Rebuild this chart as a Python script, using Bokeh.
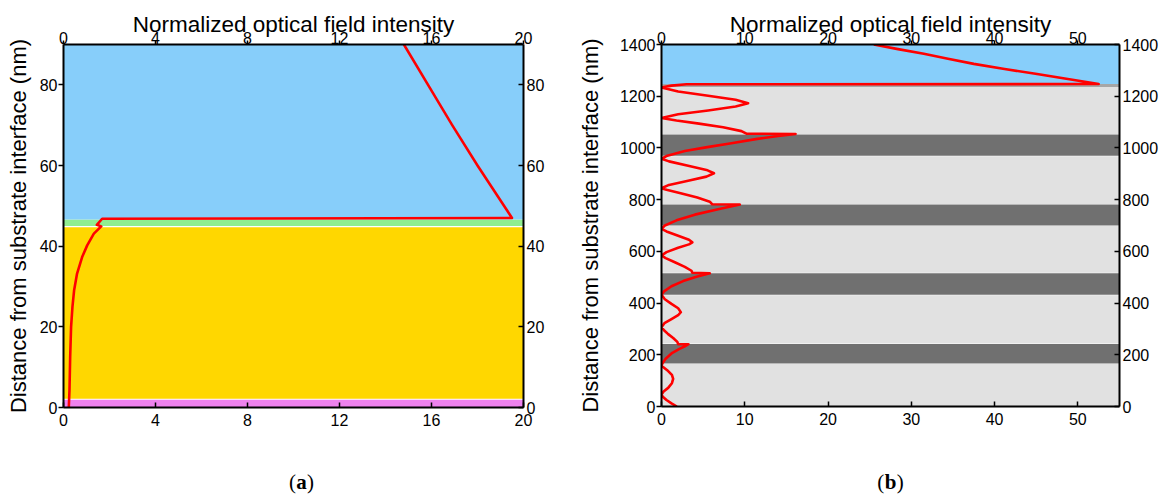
from bokeh.plotting import figure
from bokeh.layouts import row, column
from bokeh.models import Range1d, LinearAxis, FixedTicker, Label, ColumnDataSource
from bokeh.embed import file_html
from bokeh.resources import INLINE

# ---------------- data ----------------
title_text = "Normalized optical field intensity"
ylabel_text = "Distance from substrate interface (nm)"

# panel (a)
a_xticks = [0, 4, 8, 12, 16, 20]
a_yticks = [0, 20, 40, 60, 80]
a_xlim = [0, 20]
a_ylim = [0, 90]
a_layer_bottom = [0, 2.2, 45.0, 46.6]
a_layer_top = [1.95, 44.7, 46.6, 90]
a_layer_color = ["#ee82ee", "#ffd700", "#90ee90", "#87cefa"]
a_intensity = [0.23, 0.26, 0.29, 0.33, 0.39, 0.46, 0.59, 0.81, 1.03, 1.32, 1.64,
               1.45, 1.68, 19.5, 18.0, 16.9, 15.85, 14.8]
a_distance = [0, 4.2, 12.5, 20, 25, 29, 33.2, 37.3, 40.2, 43.1, 44.9,
              45.3, 46.8, 47.0, 60, 70, 80, 90]

# panel (b)
b_xticks = [0, 10, 20, 30, 40, 50]
b_yticks = [0, 200, 400, 600, 800, 1000, 1200, 1400]
b_xlim = [0, 55]
b_ylim = [0, 1400]
b_layer_bottom = [0, 166, 244, 432, 517, 700, 783, 970, 1054, 1236, 1247]
b_layer_top = [164, 242, 430, 515, 698, 781, 968, 1052, 1236, 1247, 1400]
b_layer_color = ["#e1e1e1", "#707070", "#e1e1e1", "#707070", "#e1e1e1", "#707070",
                 "#e1e1e1", "#707070", "#e1e1e1", "#a6a6a6", "#87cefa"]
b_intensity = [1.84, 1.2, 0.6, 0.15, 0.0, 0.25, 0.8, 1.25, 1.4, 1.25, 0.8, 0.3, 0.0,
               0.1, 0.5, 1.2, 2.1, 2.8, 3.24,
               2.0, 1.9, 1.4, 0.8, 0.3, 0.0, 0.35, 1.2, 2.0, 2.32, 2.0, 1.2, 0.4, 0.0,
               0.3, 1.2, 2.6, 4.2, 5.8,
               3.7, 3.6, 2.8, 1.6, 0.5, 0.0, 0.6, 2.0, 3.3, 3.7, 3.3, 2.0, 0.6, 0.0,
               0.4, 1.8, 4.0, 6.8, 9.4,
               6.1, 5.8, 4.3, 2.3, 0.6, 0.0, 0.9, 3.2, 5.4, 6.3, 5.4, 3.2, 0.9, 0.0,
               0.7, 2.8, 5.5, 8.4, 11.5, 14.0, 16.1,
               10.2, 9.6, 7.4, 4.5, 1.8, 0.0, 2.0, 5.6, 8.9, 10.4, 8.9, 5.6, 2.0, 0.0,
               1.2, 3.0, 52.5, 51.2, 49.9, 47.5, 45.1, 41.2, 37.5, 34.4, 31.5, 28.4, 25.5]
b_distance = [0, 12, 25, 38, 46, 58, 72, 90, 107, 122, 137, 150, 158,
              166, 185, 205, 222, 233, 241,
              241, 250, 265, 280, 295, 307, 322, 338, 353, 365, 380, 397, 415, 432,
              445, 465, 485, 502, 515,
              517, 525, 540, 558, 574, 584, 597, 614, 627, 635, 645, 660, 677, 687,
              700, 720, 742, 763, 781,
              782, 792, 808, 825, 838, 844, 857, 873, 889, 902, 915, 931, 948, 958,
              970, 988, 1003, 1018, 1035, 1046, 1054,
              1055, 1065, 1080, 1094, 1106, 1116, 1130, 1145, 1160, 1173, 1186, 1202, 1218, 1234,
              1241, 1246, 1247, 1254, 1261, 1273, 1286, 1305, 1325, 1345, 1364, 1382, 1400]

captions = ["a", "b"]

FONT = "Liberation Sans"


def make_panel(xlim, ylim, xticks, yticks, lb, lt, lc, xs, ys, fw, fh, bl, br, bt, bb,
               ylab_standoff):
    p = figure(width=bl + fw + br, height=bt + fh + bb, frame_width=fw, frame_height=fh,
               x_range=Range1d(*xlim), y_range=Range1d(*ylim),
               output_backend="svg", toolbar_location=None,
               min_border_left=bl, min_border_right=br,
               min_border_top=bt, min_border_bottom=bb)
    p.outline_line_color = None
    p.xgrid.visible = False
    p.ygrid.visible = False

    src = ColumnDataSource(dict(left=[xlim[0]] * len(lb), right=[xlim[1]] * len(lb),
                                bottom=lb, top=lt, color=lc))
    p.quad(left="left", right="right", bottom="bottom", top="top",
           fill_color="color", line_color=None, source=src)
    p.line(xs, ys, line_color="#ff0000", line_width=2.6, line_join="round")

    bottom_ax = p.below[0]
    left_ax = p.left[0]
    top_ax = LinearAxis()
    right_ax = LinearAxis()
    p.add_layout(top_ax, "above")
    p.add_layout(right_ax, "right")

    for ax in [bottom_ax, top_ax]:
        ax.ticker = FixedTicker(ticks=xticks)
    for ax in [left_ax, right_ax]:
        ax.ticker = FixedTicker(ticks=yticks)

    for ax in [bottom_ax, top_ax, left_ax, right_ax]:
        ax.axis_line_width = 2
        ax.axis_line_color = "black"
        ax.major_tick_line_width = 1.5
        ax.major_tick_line_color = "black"
        ax.minor_tick_line_color = None
        ax.major_label_text_font = FONT
        ax.major_label_text_font_size = "16px"
        ax.major_label_text_color = "black"
        ax.axis_label_text_font = FONT
        ax.axis_label_text_font_size = "22px"
        ax.axis_label_text_font_style = "normal"
        ax.axis_label_text_color = "black"

    left_ax.major_tick_out = 5
    left_ax.major_tick_in = 0
    left_ax.major_label_standoff = 1
    left_ax.axis_label = ylabel_text
    left_ax.axis_label_standoff = ylab_standoff

    top_ax.major_tick_out = 4
    top_ax.major_tick_in = 0
    top_ax.major_label_standoff = -3
    top_ax.axis_label = title_text
    top_ax.axis_label_standoff = -8
    top_ax.axis_label_text_font_size = "22.5px"

    bottom_ax.major_tick_out = 0
    bottom_ax.major_tick_in = 5
    bottom_ax.major_label_standoff = 6

    right_ax.major_tick_out = 0
    right_ax.major_tick_in = 5
    right_ax.major_label_standoff = 3
    return p


pa = make_panel(a_xlim, a_ylim, a_xticks, a_yticks, a_layer_bottom, a_layer_top,
                a_layer_color, a_intensity, a_distance,
                fw=460, fh=363, bl=63, br=30, bt=44, bb=30, ylab_standoff=6)

pb = make_panel(b_xlim, b_ylim, b_xticks, b_yticks, b_layer_bottom, b_layer_top,
                b_layer_color, b_intensity, b_distance,
                fw=458, fh=362, bl=108, br=48, bt=44, bb=31, ylab_standoff=14)

# caption strip under the two panels (positions in page pixels)
cap = figure(width=1167, height=60, x_range=Range1d(0, 1167), y_range=Range1d(60, 0),
             output_backend="svg", toolbar_location=None,
             x_axis_type=None, y_axis_type=None,
             min_border_left=0, min_border_right=0, min_border_top=0, min_border_bottom=0)
cap.outline_line_color = None
cap.xgrid.visible = False
cap.ygrid.visible = False
serif = "Liberation Serif"
for cx, letter, half in [(301, captions[0], 5.6), (890, captions[1], 6.2)]:
    cap.add_layout(Label(x=cx, y=44, text="(", text_font=serif, text_font_size="21px",
                         text_align="right", text_baseline="alphabetic",
                         x_offset=-half, text_color="black"))
    cap.add_layout(Label(x=cx, y=44, text=letter, text_font=serif, text_font_size="21px",
                         text_font_style="bold", text_align="center",
                         text_baseline="alphabetic", text_color="black"))
    cap.add_layout(Label(x=cx, y=44, text=")", text_font=serif, text_font_size="21px",
                         text_align="left", text_baseline="alphabetic",
                         x_offset=half, text_color="black"))

layout = column(row(pa, pb), cap)
open("out.html", "w").write(file_html(layout, INLINE))
